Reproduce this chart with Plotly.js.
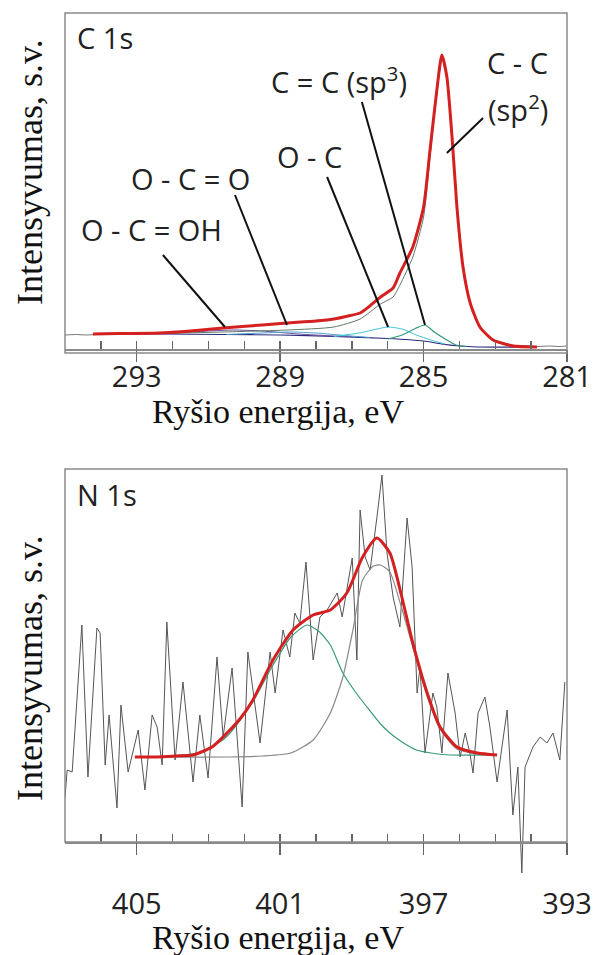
<!DOCTYPE html>
<html>
<head>
<meta charset="utf-8">
<script src="https://cdn.plot.ly/plotly-3.0.1.min.js"></script>
<style>html,body{margin:0;padding:0;background:#fff;}#chart{width:609px;height:955px;}</style>
</head>
<body>
<div id="chart"></div>
<script>
// ---------- C 1s (top panel) ----------
const c1sRawBE   = [295.0, 294.7, 294.4, 294.0, 293.5, 293.0, 292.35, 291.5, 290.6, 289.5, 288.8, 288.0, 287.5, 287.1, 286.77, 286.5, 286.2, 285.85, 285.66, 285.3, 285.0, 284.82, 284.63, 284.49, 284.35, 284.2, 284.07, 283.9, 283.7, 283.43, 283.06, 282.5, 281.84, 281.5, 281.2, 281.0];
const c1sRawI    = [14, 14.5, 14, 15, 15.5, 15.5, 16.5, 18, 21, 24, 26.5, 28, 30, 33, 36.5, 43, 52, 61, 76, 102, 142, 199, 259, 293, 272, 209, 142, 82, 46, 22, 9, 3.5, 2.5, 3, 2.5, 3];
const c1sFitBE   = [294.22, 293.5, 292.35, 291.5, 290.6, 289.5, 288.8, 288.0, 287.5, 287.1, 286.77, 286.5, 286.2, 285.85, 285.66, 285.3, 285.0, 284.82, 284.63, 284.49, 284.35, 284.2, 284.07, 283.9, 283.7, 283.43, 283.06, 282.5, 281.84];
const c1sFitI    = [15, 15.5, 16, 18, 21, 24, 26, 28, 30, 33, 36, 43, 52, 61, 76, 102, 142, 199, 259, 294, 272, 209, 142, 82, 46, 22, 9, 3, 2];
const c1sSp2BE   = [292.35, 290.6, 288.8, 287.5, 286.77, 286.2, 285.85, 285.66, 285.3, 285.0, 284.82, 284.63, 284.49, 284.35, 284.2, 284.07, 283.9, 283.7, 283.43, 283.06, 282.5, 281.84];
const c1sSp2I    = [15.5, 17, 19, 22, 30, 45, 52, 64, 92, 132, 192, 255, 292, 271, 208, 141, 81, 45, 21, 8, 3, 2];
const c1sBgBE    = [294.22, 292.35, 290.6, 289.0, 287.5, 286.0, 285.0, 284.5, 284.0, 283.5, 282.0, 281.84];
const c1sBgI     = [15, 15, 14.5, 14, 12.5, 10.5, 8, 5, 3, 2, 2, 2];
const c1sOCOHBE  = [293.0, 292.0, 291.0, 290.3, 289.5, 288.5, 287.5, 287.0];
const c1sOCOHI   = [15, 16, 18, 19, 18, 15, 13, 12.5];
const c1sOCOBE   = [290.5, 289.5, 288.7, 288.0, 287.2, 286.5];
const c1sOCOI    = [14.5, 16, 17, 16, 13.5, 11.5];
const c1sOCBE    = [287.5, 286.8, 286.3, 286.0, 285.6, 285.2, 284.8, 284.4];
const c1sOCI     = [12.5, 16, 20, 22, 20, 14, 9, 5];
const c1sSp3BE   = [286.0, 285.6, 285.2, 284.96, 284.7, 284.4, 284.1, 283.8];
const c1sSp3I    = [10, 14, 21, 24, 17, 10, 4, 2.5];
const c1sTickVals = [293, 289, 285, 281];
const c1sTickText = ['293', '289', '285', '281'];
const c1sMinor    = [294, 293, 292, 291, 290, 289, 288, 287, 286, 285, 284, 283, 282];
const c1sLabels   = ['O - C = OH', 'O - C = O', 'O - C', 'C = C (sp<sup>3</sup>)', 'C - C', '(sp<sup>2</sup>)'];
const c1sLabelBE  = [292.6, 291.51, 288.17, 287.36, 282.37, 282.37];
const c1sLabelI   = [120, 171, 193, 269, 287, 241];
const c1sLeadFromBE = [292.27, 290.26, 287.69, 286.72, 283.34];
const c1sLeadFromI  = [94, 154, 172, 247, 231];
const c1sLeadToBE   = [290.54, 288.81, 285.99, 284.96, 284.35];
const c1sLeadToI    = [22, 24, 22, 24, 196];

// ---------- N 1s (bottom panel) ----------
const n1sRawBE = [407.0, 406.94, 406.8, 406.53, 406.36, 406.11, 406.02, 405.88, 405.77, 405.55, 405.44, 405.24, 404.96, 404.77, 404.57, 404.43, 404.29, 404.16, 403.93, 403.71, 403.43, 403.24, 403.01, 402.76, 402.59, 402.34, 402.06, 401.9, 401.56, 401.28, 401.14, 400.92, 400.73, 400.59, 400.45, 400.28, 400.08, 399.89, 399.69, 399.41, 399.27, 398.99, 398.86, 398.77, 398.63, 398.49, 398.3, 398.16, 398.02, 397.85, 397.66, 397.46, 397.32, 397.18, 397.1, 396.96, 396.74, 396.63, 396.49, 396.32, 396.12, 395.98, 395.84, 395.71, 395.62, 395.48, 395.29, 395.15, 394.95, 394.67, 394.51, 394.37, 394.26, 394.17, 393.95, 393.75, 393.56, 393.39, 393.2, 393.06];
const n1sRawI  = [44, 72, 70, 217, 65, 214, 209, 77, 127, 34, 137, 70, 112, 52, 127, 115, 77, 220, 82, 160, 60, 127, 64, 185, 105, 174, 35, 190, 99, 190, 149, 212, 185, 229, 219, 280, 182, 225, 232, 249, 225, 284, 182, 332, 285, 272, 325, 367, 289, 245, 215, 324, 275, 149, 175, 89, 149, 135, 89, 169, 129, 85, 109, 89, 69, 129, 145, 115, 60, 132, 27, 75, -31, 75, 95, 105, 99, 109, 82, 160];
const n1sFitBE = [405.05, 404.5, 403.9, 403.43, 402.9, 402.48, 402.1, 401.76, 401.2, 400.64, 400.08, 399.6, 399.14, 398.7, 398.3, 397.94, 397.62, 397.3, 396.9, 396.54, 396.07, 395.5, 394.95];
const n1sFitI  = [85, 85, 86, 87, 95, 109, 124, 142, 182, 212, 227, 232, 249, 285, 304, 289, 247, 199, 149, 115, 95, 89, 87];
const n1sGreenBE = [405.05, 404.0, 403.2, 402.5, 401.8, 401.2, 400.7, 400.25, 399.9, 399.6, 399.25, 398.9, 398.58, 398.2, 397.94, 397.6, 397.2, 396.7, 396.26, 394.95];
const n1sGreenI  = [85, 86, 90, 105, 138, 177, 205, 217, 210, 197, 169, 150, 135, 118, 109, 100, 92, 88.5, 87, 87];
const n1sGrayBE = [405.05, 402.4, 401.5, 400.7, 400.08, 399.6, 399.25, 398.97, 398.7, 398.4, 398.2, 397.94, 397.66, 397.3, 396.9, 396.54, 396.07, 395.5, 394.95];
const n1sGrayI  = [85, 85, 86, 89, 102, 129, 165, 212, 262, 276, 277, 270, 240, 195, 146, 113, 93, 88, 87];
const n1sTickVals = [405, 401, 397, 393];
const n1sTickText = ['405', '401', '397', '393'];
const n1sMinor    = [406, 405, 404, 403, 402, 401, 400, 399, 398, 397, 396, 395, 394];

const xTitle = 'Ryšio energija, eV';
const yTitle = 'Intensyvumas, s.v.';

const thin = (x, y, color, xa, ya, w, shape) => ({
  x: x, y: y, type: 'scatter', mode: 'lines', xaxis: xa, yaxis: ya,
  line: {color: color, width: w || 1, shape: shape || 'spline', smoothing: 0.6}, hoverinfo: 'skip'
});
// empty traces so the tick-only overlay axes get drawn
const holder = xa => ({x: [], y: [], type: 'scatter', mode: 'lines', xaxis: xa, yaxis: (xa === 'x3' || xa === 'x5') ? 'y' : 'y2', hoverinfo: 'skip'});

const traces = [
  thin(c1sRawBE, c1sRawI, '#7a7a7a', 'x', 'y', 1, 'linear'),
  thin(c1sBgBE, c1sBgI, '#2c2c7c', 'x', 'y', 1.2),
  thin(c1sOCOHBE, c1sOCOHI, '#6a4a9a', 'x', 'y', 1),
  thin(c1sOCOBE, c1sOCOI, '#4a9fd0', 'x', 'y', 1),
  thin(c1sOCBE, c1sOCI, '#3cc6d6', 'x', 'y', 1),
  thin(c1sSp3BE, c1sSp3I, '#2f9a7a', 'x', 'y', 1.2),
  thin(c1sSp2BE, c1sSp2I, '#5d7a66', 'x', 'y', 1),
  thin(c1sFitBE, c1sFitI, '#d42020', 'x', 'y', 3),
  thin(n1sRawBE, n1sRawI, '#555555', 'x2', 'y2', 1, 'linear'),
  thin(n1sGrayBE, n1sGrayI, '#888888', 'x2', 'y2', 1.2),
  thin(n1sGreenBE, n1sGreenI, '#3a9a78', 'x2', 'y2', 1.2),
  thin(n1sFitBE, n1sFitI, '#d42020', 'x2', 'y2', 3),
  holder('x3'), holder('x5'), holder('x4'), holder('x6')
];

const W = 609, H = 955;
const px = v => v / W;
const py = v => 1 - v / H;
const tickFont = {family: 'Open Sans, sans-serif', size: 29, color: '#222'};
const lblFont = {family: 'Open Sans, sans-serif', size: 29, color: '#222'};
const serif = {family: 'Liberation Serif, serif', size: 34, color: '#111'};
const serifY = {family: 'Liberation Serif, serif', size: 36, color: '#111'};

// main axis: line + labels only
const labelX = {
  showgrid: false, zeroline: false, showline: true, linecolor: '#8a8a8a', linewidth: 1.5,
  ticks: '', tickmode: 'array', tickfont: tickFont, fixedrange: true
};
// overlay axes: inside ticks at every eV, outside ticks at labelled eV
const tickX = (dir, len) => ({
  showgrid: false, zeroline: false, showline: false, showticklabels: false,
  ticks: dir, ticklen: len, tickwidth: 1.3, tickcolor: '#666', tickmode: 'array', fixedrange: true, side: 'bottom'
});

const layout = {
  width: W, height: H, margin: {l: 0, r: 0, t: 0, b: 0},
  paper_bgcolor: '#fff', plot_bgcolor: 'rgba(0,0,0,0)', showlegend: false,
  xaxis: Object.assign({}, labelX, {domain: [px(65), px(567)], range: [295, 281], anchor: 'y',
    tickvals: c1sTickVals, ticktext: c1sTickText, ticklabelstandoff: 2}),
  yaxis: {domain: [py(349), py(13)], range: [0, 336], anchor: 'x', showgrid: false, zeroline: false,
    showline: false, showticklabels: false, ticks: '', fixedrange: true},
  xaxis3: Object.assign(tickX('inside', 8), {overlaying: 'x', anchor: 'y', range: [295, 281], tickvals: c1sMinor}),
  xaxis5: Object.assign(tickX('outside', 12), {overlaying: 'x', anchor: 'y', range: [295, 281], tickvals: c1sTickVals}),
  xaxis2: Object.assign({}, labelX, {domain: [px(65), px(567)], range: [407, 393], anchor: 'free',
    position: py(842), tickvals: n1sTickVals, ticktext: n1sTickText, ticklabelstandoff: 36}),
  yaxis2: {domain: [py(878), py(469)], range: [-36, 373], anchor: 'x2', showgrid: false, zeroline: false,
    showline: false, showticklabels: false, ticks: '', fixedrange: true},
  xaxis4: Object.assign(tickX('inside', 8), {overlaying: 'x2', anchor: 'free', position: py(842), range: [407, 393], tickvals: n1sMinor}),
  xaxis6: Object.assign(tickX('outside', 12), {overlaying: 'x2', anchor: 'free', position: py(842), range: [407, 393], tickvals: n1sTickVals}),
  shapes: [
    {type: 'rect', xref: 'paper', yref: 'paper', x0: px(65), x1: px(567), y0: py(353), y1: py(13),
     line: {color: '#8a8a8a', width: 1.5}, layer: 'above'},
    {type: 'rect', xref: 'paper', yref: 'paper', x0: px(65), x1: px(567), y0: py(842), y1: py(469),
     line: {color: '#8a8a8a', width: 1.5}, layer: 'above'}
  ],
  annotations: [
    {text: 'C 1s', xref: 'x', yref: 'y', x: 294.72, y: 312, xanchor: 'left', yanchor: 'middle', showarrow: false, font: lblFont},
    {text: 'N 1s', xref: 'x2', yref: 'y2', x: 406.72, y: 348, xanchor: 'left', yanchor: 'middle', showarrow: false, font: lblFont},
    {text: xTitle, xref: 'paper', yref: 'paper', x: px(278), y: py(411), xanchor: 'center', yanchor: 'middle', showarrow: false, font: serif},
    {text: xTitle, xref: 'paper', yref: 'paper', x: px(278), y: py(937), xanchor: 'center', yanchor: 'middle', showarrow: false, font: serif},
    {text: yTitle, xref: 'paper', yref: 'paper', x: px(30), y: py(172), textangle: -90, xanchor: 'center', yanchor: 'middle', showarrow: false, font: serifY},
    {text: yTitle, xref: 'paper', yref: 'paper', x: px(30), y: py(668), textangle: -90, xanchor: 'center', yanchor: 'middle', showarrow: false, font: serifY}
  ]
};

c1sLabels.forEach((t, i) => {
  layout.annotations.push({text: t, xref: 'x', yref: 'y', x: c1sLabelBE[i], y: c1sLabelI[i],
    xanchor: 'center', yanchor: 'middle', showarrow: false, font: lblFont});
});
c1sLeadFromBE.forEach((b, i) => {
  layout.shapes.push({type: 'line', xref: 'x', yref: 'y', x0: b, y0: c1sLeadFromI[i],
    x1: c1sLeadToBE[i], y1: c1sLeadToI[i], line: {color: '#111', width: 2}, layer: 'above'});
});

Plotly.newPlot('chart', traces, layout, {staticPlot: true, displayModeBar: false});
</script>
</body>
</html>
